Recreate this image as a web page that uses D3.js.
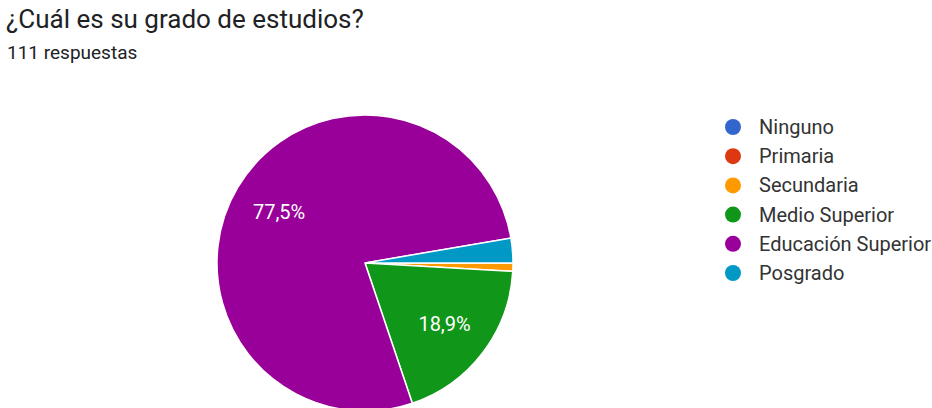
<!DOCTYPE html>
<html>
<head>
<meta charset="utf-8">
<script src="https://cdn.jsdelivr.net/npm/d3@7"></script>
<style>
	body { margin: 0; background: #fff; }
	text { font-family: Roboto, "Noto Sans", sans-serif; }
</style>
</head>
<body>
<div id="chart-area"></div>
<script>
// Data
var categories = ["Ninguno", "Primaria", "Secundaria", "Medio Superior", "Educación Superior", "Posgrado"];
var counts = [0, 0, 1, 21, 86, 3];
var colors = ["#3366cc", "#dc3912", "#ff9900", "#109618", "#990099", "#0099c6"];
var pctLabels = ["", "", "", "18,9%", "77,5%", ""];

var width = 932;
var height = 408;

var data = categories.map((c, i) => {
	return { name: c, value: counts[i], color: colors[i], label: pctLabels[i] };
});

var svg = d3.select("#chart-area").append("svg")
	.attr("width", width)
	.attr("height", height);

// Title
svg.append("text")
	.attr("x", 6)
	.attr("y", 28)
	.attr("font-size", "26px")
	.attr("fill", "#202124")
	.text("¿Cuál es su grado de estudios?");

svg.append("text")
	.attr("x", 7)
	.attr("y", 59)
	.attr("font-size", "19px")
	.attr("fill", "#202124")
	.text("111 respuestas");

// Pie
var radius = 148;
var g = svg.append("g")
	.attr("transform", "translate(365, 263)");

var pie = d3.pie()
	.value((d) => { return d.value; })
	.sort(null)
	.startAngle(Math.PI / 2)
	.endAngle(Math.PI / 2 + 2 * Math.PI);

var arc = d3.arc().innerRadius(0).outerRadius(radius);

var slices = g.selectAll("path").data(pie(data).filter((d) => { return d.data.value > 0; }));
slices.enter()
	.append("path")
		.attr("d", arc)
		.attr("fill", (d) => { return d.data.color; })
		.attr("stroke", "#fff")
		.attr("stroke-width", 1.5);

var labelArc = d3.arc().innerRadius(100).outerRadius(100);
g.selectAll("text.pct")
	.data(pie(data).filter((d) => { return d.data.label !== ""; }))
	.enter()
	.append("text")
		.attr("class", "pct")
		.attr("transform", (d) => {
			var c = labelArc.centroid(d);
			return "translate(" + c[0] + ", " + (c[1] + 7) + ")";
		})
		.attr("text-anchor", "middle")
		.attr("font-size", "20px")
		.attr("fill", "#fff")
		.text((d) => { return d.data.label; });

// Legend
var legendY = d3.scalePoint()
	.domain(categories)
	.range([127, 273]);

var legend = svg.append("g");
var items = legend.selectAll("g").data(data).enter()
	.append("g")
		.attr("transform", (d) => { return "translate(733, " + legendY(d.name) + ")"; });

items.append("circle")
	.attr("r", 8)
	.attr("fill", (d) => { return d.color; });

items.append("text")
	.attr("x", 26)
	.attr("y", 7)
	.attr("font-size", "20px")
	.attr("fill", "#333")
	.text((d) => { return d.name; });
</script>
</body>
</html>
